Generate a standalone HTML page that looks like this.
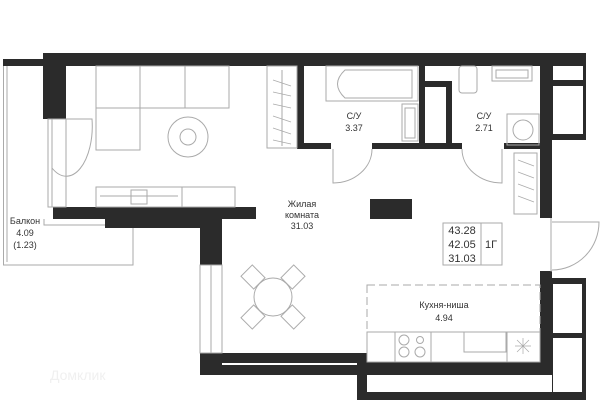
<!DOCTYPE html><html><head><meta charset="utf-8"><style>body{margin:0;background:#fff}svg{display:block}text{font-family:"Liberation Sans",sans-serif;fill:#333}</style></head><body>
<svg width="600" height="402" viewBox="0 0 600 402" xmlns="http://www.w3.org/2000/svg">
<g fill="#2b2b2b">
<rect x="43" y="53" width="543" height="13"/>
<rect x="3" y="59" width="45" height="7"/>
<rect x="43" y="53" width="23" height="66"/>
<rect x="297" y="53" width="7" height="96"/>
<rect x="297" y="143" width="34" height="6"/>
<rect x="372" y="143" width="90" height="6"/>
<rect x="419" y="66" width="6" height="80"/>
<rect x="419" y="81" width="33" height="68"/>
<rect x="504" y="143" width="48" height="6"/>
<rect x="540" y="53" width="12" height="165"/>
<rect x="540" y="53" width="46" height="87"/>
<rect x="53" y="207" width="203" height="12"/>
<rect x="105" y="207" width="116" height="21"/>
<rect x="200" y="207" width="22" height="58"/>
<rect x="200" y="353" width="167" height="22"/>
<rect x="357" y="353" width="10" height="47"/>
<rect x="357" y="362" width="195" height="13"/>
<rect x="357" y="392" width="229" height="8"/>
<rect x="540" y="271" width="12" height="104"/>
<rect x="552" y="278" width="34" height="122"/>
<rect x="370" y="199" width="42" height="20"/>
</g>
<g fill="#fff">
<rect x="425" y="87" width="21" height="56"/>
<rect x="553" y="66" width="30" height="14"/>
<rect x="553" y="86" width="30" height="48"/>
<rect x="222" y="363" width="135" height="2"/>
<rect x="367" y="375" width="173" height="17"/>
<rect x="553" y="284" width="29" height="49"/>
<rect x="553" y="338" width="29" height="54"/>
</g>
<g fill="none" stroke="#aaa" stroke-width="1">
<path d="M3.5 66 V265 H133 V228"/>
<line x1="7" y1="66" x2="7" y2="262"/>
<path d="M44 219 V225 H105"/>
<rect x="48" y="119" width="18" height="88"/>
<line x1="52" y1="119" x2="52" y2="207"/>
<path d="M66 119 H92 A26 50 0 0 1 52 168"/>
<rect x="200" y="265" width="22" height="88"/>
<line x1="211" y1="265" x2="211" y2="353"/>
<rect x="96" y="66" width="133" height="42"/>
<rect x="96" y="66" width="44" height="84"/>
<line x1="140" y1="66" x2="140" y2="108"/><line x1="185" y1="66" x2="185" y2="108"/>
<circle cx="188" cy="137" r="20"/><circle cx="188" cy="137" r="8"/>
<rect x="267" y="66" width="30" height="82"/>
<line x1="282" y1="70" x2="282" y2="146"/>
<path d="M273 80 L291 86 M273 92 L291 96 M273 104 L291 108 M273 116 L291 122 M273 128 L291 134 M273 140 L291 144" stroke-width="0.7"/>
<path d="M518 160 L534 166 M518 172 L534 178 M518 184 L534 190 M518 196 L534 202" stroke-width="0.7"/>
<rect x="96" y="187" width="139" height="20"/>
<line x1="182" y1="187" x2="182" y2="207"/>
<line x1="100" y1="196" x2="178" y2="196"/>
<rect x="131" y="190" width="16" height="14"/>
<rect x="326" y="66" width="92" height="35"/>
<path d="M345 70 H412 V98 H345 Q330 84 345 70Z"/>
<rect x="402" y="104" width="16" height="37"/><rect x="405" y="108" width="10" height="30"/>
<rect x="459" y="66" width="18" height="27" rx="3"/>
<rect x="492" y="66" width="40" height="15"/><rect x="496" y="70" width="32" height="8"/>
<rect x="507" y="114" width="32" height="31"/><circle cx="523" cy="130" r="10"/>
<rect x="514" y="153" width="23" height="61"/>
<path d="M333 149 V183 A39 34 0 0 0 372 149"/>
<path d="M502 149 V183 A40 34 0 0 1 462 149"/>
<path d="M551 218 V271 H552"/>
<path d="M552 222 H599 A47 48 0 0 1 552 270"/>
<rect x="443" y="223" width="59" height="42"/>
<line x1="481" y1="223" x2="481" y2="265"/>
<rect x="367" y="285" width="173" height="47" stroke-dasharray="8 4"/>
<rect x="367" y="332" width="173" height="30"/>
<line x1="395" y1="332" x2="395" y2="362"/><line x1="431" y1="332" x2="431" y2="362"/><line x1="507" y1="332" x2="507" y2="362"/>
<rect x="464" y="332" width="42" height="20"/>
<circle cx="404" cy="340" r="5"/><circle cx="420" cy="340" r="3.5"/><circle cx="404" cy="352" r="5"/><circle cx="420" cy="352" r="5"/>
<path d="M517 340 L529 352 M529 340 L517 352 M523 338 V354 M515 346 H531" stroke-width="0.7"/>
<circle cx="273" cy="297" r="19"/>
<g transform="translate(273 297)">
<rect x="-9" y="-8" width="18" height="16" transform="translate(-20 -20) rotate(45)"/>
<rect x="-9" y="-8" width="18" height="16" transform="translate(20 -20) rotate(-45)"/>
<rect x="-9" y="-8" width="18" height="16" transform="translate(-20 20) rotate(-45)"/>
<rect x="-9" y="-8" width="18" height="16" transform="translate(20 20) rotate(45)"/>
</g>
</g>
<g font-size="9" text-anchor="middle">
<text x="25" y="224">Балкон</text><text x="25" y="236">4.09</text><text x="25" y="248">(1.23)</text>
<text x="302" y="207">Жилая</text><text x="302" y="218">комната</text><text x="302" y="229">31.03</text>
<text x="354" y="119">С/У</text><text x="354" y="131">3.37</text>
<text x="484" y="119">С/У</text><text x="484" y="131">2.71</text>
<text x="444" y="308">Кухня-ниша</text><text x="444" y="321">4.94</text>
</g>
<g font-size="11" text-anchor="middle">
<text x="462" y="234">43.28</text><text x="462" y="248">42.05</text><text x="462" y="262">31.03</text>
<text x="491" y="248">1Г</text>
</g>
<text x="50" y="380" font-size="14" style="fill:#f0f0f0">Домклик</text>
</svg></body></html>
